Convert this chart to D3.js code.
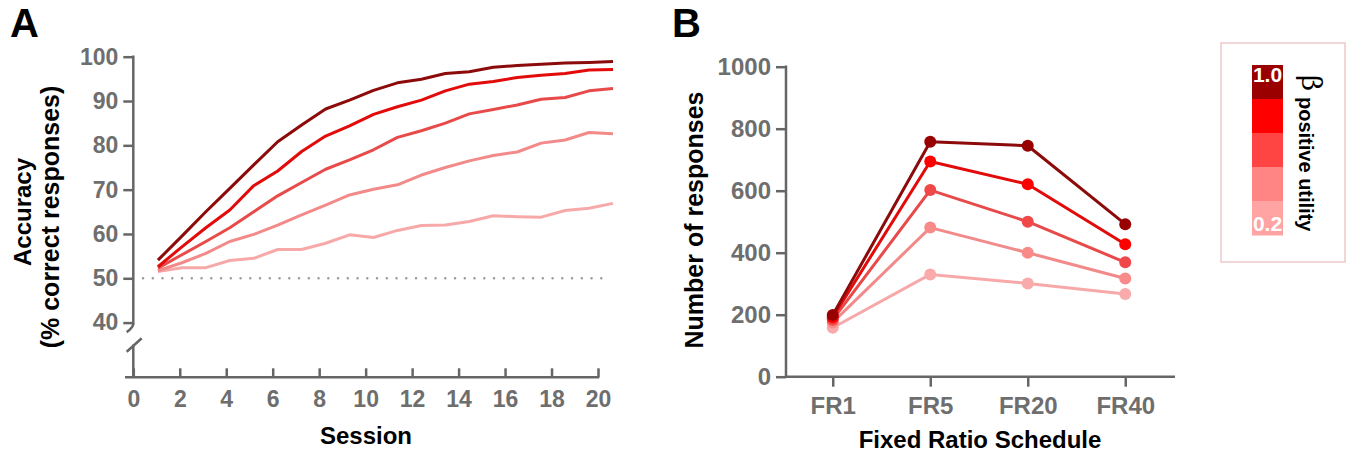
<!DOCTYPE html>
<html>
<head>
<meta charset="utf-8">
<script src="https://cdn.jsdelivr.net/npm/d3@7"></script>
<style>
  html, body { margin: 0; padding: 0; background: #fff; }
  svg { display: block; }
  text { font-family: "Liberation Sans", Arial, Helvetica, sans-serif; font-weight: bold; }
</style>
</head>
<body>
<svg id="chart" width="1348" height="460"></svg>
<script>
// ---------------- DATA ----------------
const sessions = [1,2,3,4,5,6,7,8,9,10,11,12,13,14,15,16,17,18,19,20];
const sessionTicks = [0,2,4,6,8,10,12,14,16,18,20];
const accuracyTicks = [40,50,60,70,80,90,100];
const betas = ["1.0","0.8","0.6","0.4","0.2"];
const acc10 = [54.1,59.5,65.0,70.3,75.6,80.8,84.6,88.2,90.2,92.4,94.1,94.9,96.2,96.6,97.6,98.0,98.3,98.6,98.7,98.9];
const acc08 = [52.6,57.1,61.4,65.4,70.9,74.2,78.6,82.1,84.4,87.0,88.7,90.2,92.3,93.8,94.4,95.3,95.8,96.2,97.0,97.1];
const acc06 = [52.3,55.3,58.3,61.4,65.0,68.6,71.6,74.6,76.7,79.0,81.8,83.3,85.0,87.1,88.1,89.1,90.4,90.8,92.3,92.8];
const acc04 = [51.7,53.5,55.6,58.3,59.9,62.0,64.3,66.5,68.8,70.1,71.1,73.3,75.0,76.5,77.7,78.5,80.5,81.2,82.9,82.6];
const acc02 = [51.5,52.4,52.4,54.0,54.5,56.5,56.5,57.9,59.8,59.2,60.8,61.9,62.0,62.8,64.1,63.9,63.8,65.3,65.8,66.9];
const chanceLevel = 50;

const schedules = ["FR1","FR5","FR20","FR40"];
const responseTicks = [0,200,400,600,800,1000];
const resp10 = [199,758,745,492];
const resp08 = [192,694,621,427];
const resp06 = [184,602,500,369];
const resp04 = [175,481,400,317];
const resp02 = [158,330,301,267];

// ---------------- STYLE ----------------
const lineColors   = ["#8c0a0a","#e30a0a","#e84a4a","#f38a8a","#f7a9a9"];
const markerColors = ["#990000","#ff0000","#f04848","#f88a8a","#f9aaaa"];
const legendColors = ["#9b0000","#ff0000","#ff4444","#ff8585","#ffa3a3"];
const axisColor = "#666";
const tickTextColor = "#6e6e6e";

const svg = d3.select("#chart");

// ================= PANEL A =================
const xAxisA = d3.scaleLinear().domain([0,20]).range([133.3,598]);
const xLineA = d3.scaleLinear().domain([0,20]).range([134,613]);
const yA = d3.scaleLinear().domain([40,100]).range([322.6,56.7]);
const axisYA = 133.3, baseA = 377.3;

const gA = svg.append("g");

// y axis upper segment
const yAx = gA.append("g").attr("transform", `translate(${axisYA},0)`)
  .call(d3.axisLeft(yA).tickValues(accuracyTicks).tickFormat(d3.format("d")).tickSize(10).tickPadding(5));
yAx.select(".domain").remove();
yAx.selectAll(".tick line").attr("stroke", axisColor).attr("stroke-width", 2.5);
yAx.selectAll(".tick text").attr("fill", tickTextColor).attr("font-size", 23);
gA.append("line").attr("x1", axisYA).attr("x2", axisYA)
  .attr("y1", yA(100) - 1.2).attr("y2", yA(40) + 2)
  .attr("stroke", axisColor).attr("stroke-width", 2.5);
// break marks
const y40 = yA(40);
gA.append("path").attr("d", `M${axisYA},${y40+1} Q${axisYA},${y40+5} ${axisYA-6.6},${y40+9.5}`)
  .attr("stroke", axisColor).attr("stroke-width", 2.5).attr("fill","none");
gA.append("path").attr("d", `M${axisYA+8.4},${y40+15.7} L${axisYA-6.6},${y40+29.1}`)
  .attr("stroke", axisColor).attr("stroke-width", 2.5).attr("fill","none");
gA.append("path").attr("d", `M${axisYA},${y40+22} L${axisYA},${baseA}`)
  .attr("stroke", axisColor).attr("stroke-width", 2.5).attr("fill","none");

// x axis
const xAx = gA.append("g").attr("transform", `translate(0,${baseA})`)
  .call(d3.axisBottom(xAxisA).tickValues(sessionTicks).tickFormat(d3.format("d")).tickSizeInner(-9).tickSizeOuter(0).tickPadding(13));
xAx.select(".domain").remove();
xAx.selectAll(".tick line").attr("stroke", axisColor).attr("stroke-width", 2.5);
xAx.selectAll(".tick text").attr("fill", tickTextColor).attr("font-size", 23);
gA.append("line").attr("x1", 125).attr("x2", xAxisA(20) + 1.2)
  .attr("y1", baseA).attr("y2", baseA)
  .attr("stroke", axisColor).attr("stroke-width", 2.5);

// chance line
gA.append("line")
  .attr("x1", 143).attr("x2", 606)
  .attr("y1", yA(chanceLevel)).attr("y2", yA(chanceLevel))
  .attr("stroke", "#9a9a9a").attr("stroke-width", 2.4)
  .attr("stroke-linecap", "round").attr("stroke-dasharray", "0.1,9.65");

// lines (lightest first)
const accSeries = [acc10, acc08, acc06, acc04, acc02];
const lineA = d3.line().x((d,i) => xLineA(sessions[i])).y(d => yA(d));
for (let k = accSeries.length - 1; k >= 0; k--) {
  gA.append("path").datum(accSeries[k])
    .attr("d", lineA).attr("fill", "none")
    .attr("stroke", lineColors[k]).attr("stroke-width", 3)
    .attr("stroke-linejoin", "round");
}

// labels
gA.append("text").attr("x", 10).attr("y", 37).attr("font-size", 40).attr("fill", "#000").text("A");
gA.append("text").attr("transform", "translate(31,212) rotate(-90)")
  .attr("text-anchor", "middle").attr("font-size", 24).attr("fill", "#000").text("Accuracy");
gA.append("text").attr("transform", "translate(59,217) rotate(-90)")
  .attr("text-anchor", "middle").attr("font-size", 25).attr("fill", "#000").text("(% correct responses)");
gA.append("text").attr("x", 366).attr("y", 444).attr("text-anchor", "middle")
  .attr("font-size", 24).attr("fill", "#000").text("Session");

// ================= PANEL B =================
const xB = d3.scalePoint().domain(schedules).range([784,1174]).padding(0.5);
const yB = d3.scaleLinear().domain([0,1000]).range([376.7,66.7]);
const axisXB = 786;
const gB = svg.append("g");

const yBx = gB.append("g").attr("transform", `translate(${axisXB},0)`)
  .call(d3.axisLeft(yB).tickValues(responseTicks).tickFormat(d3.format("d")).tickSize(10).tickPadding(5));
yBx.select(".domain").remove();
yBx.selectAll(".tick line").attr("stroke", axisColor).attr("stroke-width", 2.5);
yBx.selectAll(".tick text").attr("fill", tickTextColor).attr("font-size", 24);
gB.append("line").attr("x1", axisXB).attr("x2", axisXB)
  .attr("y1", yB(1000) - 1.2).attr("y2", yB(0) + 1.2)
  .attr("stroke", axisColor).attr("stroke-width", 2.5);

const xBx = gB.append("g").attr("transform", `translate(0,${yB(0)})`)
  .call(d3.axisBottom(xB).tickSizeInner(10).tickSizeOuter(0).tickPadding(10));
xBx.select(".domain").remove();
xBx.selectAll(".tick line").attr("stroke", axisColor).attr("stroke-width", 2.5);
xBx.selectAll(".tick text").attr("fill", tickTextColor).attr("font-size", 24);
gB.append("line").attr("x1", axisXB).attr("x2", 1175)
  .attr("y1", yB(0)).attr("y2", yB(0))
  .attr("stroke", axisColor).attr("stroke-width", 2.5);

const respSeries = [resp10, resp08, resp06, resp04, resp02];
const lineB = d3.line().x((d,i) => xB(schedules[i])).y(d => yB(d));
for (let k = respSeries.length - 1; k >= 0; k--) {
  const g = gB.append("g");
  g.append("path").datum(respSeries[k]).attr("d", lineB).attr("fill", "none")
    .attr("stroke", lineColors[k]).attr("stroke-width", 3).attr("stroke-linejoin", "round");
  g.selectAll("circle").data(respSeries[k]).join("circle")
    .attr("cx", (d,i) => xB(schedules[i])).attr("cy", d => yB(d))
    .attr("r", 6).attr("fill", markerColors[k]);
}

gB.append("text").attr("x", 672).attr("y", 37).attr("font-size", 40).attr("fill", "#000").text("B");
gB.append("text").attr("transform", "translate(703,220) rotate(-90)")
  .attr("text-anchor", "middle").attr("font-size", 25).attr("fill", "#000").text("Number of responses");
gB.append("text").attr("x", 980).attr("y", 448).attr("text-anchor", "middle")
  .attr("font-size", 24).attr("fill", "#000").text("Fixed Ratio Schedule");

// ================= LEGEND =================
const gL = svg.append("g");
gL.append("rect").attr("x", 1221).attr("y", 43).attr("width", 124).attr("height", 219)
  .attr("fill", "#fff").attr("stroke", "#ecc9c9").attr("stroke-width", 1.5);
const legY = d3.scaleBand().domain(betas).range([65,235]);
gL.selectAll("rect.seg").data(betas).join("rect").attr("class","seg")
  .attr("x", 1252).attr("width", 31)
  .attr("y", d => legY(d)).attr("height", legY.bandwidth() + 0.5)
  .attr("fill", (d,i) => legendColors[i]);
gL.selectAll("text.lab").data([betas[0], betas[betas.length-1]]).join("text").attr("class","lab")
  .attr("x", 1267.5).attr("text-anchor", "middle")
  .attr("y", (d,i) => i === 0 ? legY(d) + 17 : legY(d) + legY.bandwidth() - 4)
  .attr("font-size", 21).attr("fill", "#fff").text(d => d);
gL.append("text").attr("transform", "translate(1302,75) rotate(90)")
  .attr("font-size", 28).style("font-weight", "normal")
  .style("font-family", "'DejaVu Serif', 'Liberation Serif', serif").attr("fill", "#000").text("β");
gL.append("text").attr("transform", "translate(1299,97) rotate(90)")
  .attr("font-size", 20).attr("fill", "#000").text("positive utility");
</script>
</body>
</html>
